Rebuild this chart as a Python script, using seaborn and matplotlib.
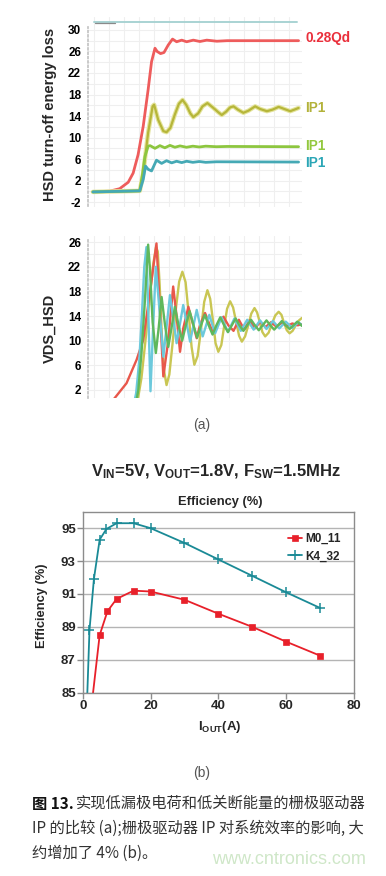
import numpy as np
import seaborn as sns
import matplotlib.pyplot as plt

# ---------------- (a) top: HSD turn-off energy loss, time axis 0-100 (a.u.)
e_red_t = [2.3, 10.2, 14.8, 18.8, 21.1, 23.4, 25.8, 28.1, 29.7, 31.3, 32.3, 33.9, 35.5, 37.5, 39.5,
           41.4, 43.8, 46.1, 49.2, 52.3, 55.5, 60.2, 65.0, 98.4]
e_red_v = [-0.1, 0.05, 0.5, 1.7, 3.4, 6.8, 12.1, 18.9, 24.1, 26.6, 26.0, 25.6, 25.8, 27.2, 28.3,
           27.8, 28.1, 27.8, 28.1, 27.85, 28.1, 27.9, 28.0, 28.0]

e_olive_t = [2.3, 24.2, 25.8, 28.1, 30.2, 30.9, 32.8, 35.2, 36.7, 38.5, 40.6, 42.5, 44.2, 46.0, 47.8,
             49.2, 51.5, 53.5, 55.8, 58.3, 60.9, 62.5, 64.5, 66.4, 68.0, 70.0, 72.6, 75.0, 78.1, 80.5,
             83.6, 86.3, 89.1, 91.8, 94.5, 96.5, 98.4]
e_olive_v = [-0.1, 0.1, 3.4, 10.9, 15.8, 16.1, 13.3, 11.2, 11.0, 11.8, 14.3, 16.3, 17.0, 16.0, 14.5,
             13.8, 14.5, 15.8, 16.4, 15.6, 14.7, 14.2, 14.8, 15.6, 15.8, 15.2, 14.6, 15.0, 15.8, 15.3,
             14.9, 15.2, 15.7, 15.3, 14.9, 15.2, 15.5]

e_green_t = [2.3, 24.2, 25.4, 26.6, 28.1, 29.0, 31.3, 33.6, 35.9, 38.3, 40.6, 43.0, 46.0, 49.0, 52.0,
             55.0, 60.0, 65.0, 98.4]
e_green_v = [-0.1, 0.1, 3.0, 6.5, 8.4, 8.5, 8.0, 8.5, 8.1, 8.55, 8.2, 8.45, 8.2, 8.4, 8.25,
             8.4, 8.3, 8.35, 8.3]

e_teal_t = [2.3, 24.2, 25.8, 26.9, 28.1, 29.7, 32.0, 34.4, 36.7, 39.1, 41.4, 43.8, 46.1, 49.0, 52.0,
            55.0, 60.0, 98.4]
e_teal_v = [-0.1, 0.1, 2.2, 4.7, 4.1, 3.8, 5.8, 5.2, 5.7, 5.3, 5.6, 5.35, 5.6, 5.4, 5.55,
            5.4, 5.5, 5.45]

top_t = [3.0, 97.7]
top_v = [31.5, 31.5]

trace_labels = ["0.28Qd", "IP1", "IP1", "IP1"]
trace_label_y = [28.5, 15.5, 8.5, 5.3]

# ---------------- (a) bottom: VDS_HSD
v_red_t = [8.0, 12.5, 18.0, 22.7, 25.8, 28.9, 32.0, 33.6, 35.2, 37.5, 39.8, 41.4, 43.0, 44.5, 46.9,
           49.2, 50.8, 52.3, 54.7, 56.6, 58.6, 61.0, 63.3, 65.6, 68.0, 70.5, 73.0, 75.5, 78.0, 80.5,
           83.0, 85.5, 88.0, 90.5, 93.0, 95.5, 98.0, 100.0]
v_red_v = [-1.0, 0.7, 3.1, 6.9, 10.1, 17.7, 25.8, 15.0, 4.2, 10.0, 18.8, 14.0, 8.2, 12.0, 15.5,
           12.5, 10.4, 12.5, 14.5, 12.8, 11.2, 13.0, 13.9, 12.5, 11.6, 13.4, 11.8, 13.3, 12.0, 13.1,
           12.2, 13.0, 12.3, 12.9, 12.4, 12.8, 12.5, 12.7]

v_olive_t = [20.0, 23.4, 25.0, 27.0, 29.0, 30.5, 31.8, 32.6, 33.5, 34.5, 35.6, 36.7, 38.0, 39.5, 41.0,
             42.6, 44.1, 45.6, 47.0, 48.4, 49.7, 51.2, 52.8, 54.3, 55.8, 57.1, 58.4, 59.6, 60.9, 62.3,
             63.6, 65.0, 66.4, 67.8, 69.2, 70.6, 71.9, 73.4, 74.9, 76.3, 77.8, 79.0, 80.3, 81.5, 82.8,
             84.4, 85.9, 87.5, 89.1, 90.4, 91.6, 92.9, 94.2, 95.6, 97.1, 98.6, 100.0]
v_olive_v = [-1.5, 0.7, 4.0, 10.5, 17.5, 22.5, 25.2, 24.5, 19.0, 11.0, 5.0, 2.8, 4.5, 9.5, 15.0,
             19.6, 21.2, 19.5, 14.5, 9.0, 6.1, 7.5, 11.8, 16.3, 18.2, 16.8, 13.2, 9.6, 8.2, 9.3,
             12.3, 15.2, 16.4, 15.4, 13.1, 10.8, 9.85, 10.7, 12.5, 14.4, 15.3, 14.6, 13.0, 11.4, 10.7,
             11.3, 12.7, 14.1, 14.7, 14.2, 12.9, 11.7, 11.2, 11.6, 12.5, 13.3, 13.7]

v_cyan_t = [21.0, 22.5, 24.0, 25.3, 26.3, 27.3, 28.3, 29.2, 30.4, 31.7, 33.4, 35.2, 36.8, 38.3, 39.9,
            41.4, 43.0, 44.5, 46.1, 47.7, 49.3, 50.8, 52.2, 53.6, 55.2, 56.7, 58.0, 59.4, 62.4, 65.4,
            68.4, 71.4, 74.4, 77.4, 80.4, 83.4, 86.4, 89.4, 92.4, 95.4, 98.4, 100.0]
v_cyan_v = [-1.0, 1.5, 7.0, 15.0, 22.0, 25.2, 13.0, 1.8, 12.0, 22.0, 15.0, 7.4, 12.5, 17.4, 13.5,
            9.6, 12.8, 15.8, 12.8, 9.85, 12.5, 15.0, 12.8, 10.7, 12.5, 14.2, 12.7, 11.2, 13.8, 11.4,
            13.6, 11.6, 13.4, 11.8, 13.3, 11.9, 13.2, 12.0, 13.1, 12.1, 13.0, 12.5]

v_green_t = [22.0, 23.5, 25.0, 26.5, 27.5, 28.1, 28.9, 30.2, 31.7, 33.0, 34.4, 36.0, 37.5, 39.0, 40.6,
             42.3, 44.0, 45.7, 47.5, 49.3, 51.0, 52.8, 54.6, 56.4, 58.2, 60.0, 61.8, 63.6, 65.4, 67.2,
             69.0, 70.8, 72.6, 74.4, 76.2, 78.0, 79.8, 81.6, 83.4, 85.2, 87.0, 88.8, 90.6, 92.4, 94.2,
             96.0, 97.8, 100.0]
v_green_v = [-1.0, 2.0, 8.0, 16.0, 22.0, 25.6, 22.0, 13.0, 8.0, 12.0, 17.1, 12.5, 9.0, 12.0, 15.5,
             12.5, 10.0, 12.5, 14.8, 12.5, 10.5, 12.5, 14.2, 12.5, 11.0, 12.5, 13.8, 12.5, 11.4, 12.5,
             13.6, 12.5, 11.6, 12.5, 13.4, 12.5, 11.7, 12.5, 13.3, 12.5, 11.8, 12.5, 13.2, 12.5, 11.9,
             12.5, 13.1, 12.4]

# ---------------- (b): efficiency vs output current
iout_m0 = [2.5, 5, 7.3, 10, 15, 20, 30, 40, 50, 60, 70]
eff_m0 = [84.0, 88.5, 89.95, 90.7, 91.2, 91.15, 90.65, 89.8, 89.0, 88.1, 87.25]
iout_k4 = [1, 2, 3.3, 5, 7, 10, 15, 20, 30, 40, 50, 60, 70]
eff_k4 = [82.8, 88.8, 91.9, 94.3, 94.95, 95.3, 95.3, 95.0, 94.1, 93.1, 92.1, 91.1, 90.15]

# ---------------- styling
sns.set_theme(style="white")
plt.rcParams["font.family"] = ["Liberation Sans", "Noto Sans CJK SC", "DejaVu Sans"]
plt.rcParams["axes.unicode_minus"] = False
plt.rcParams["mathtext.fontset"] = "custom"
plt.rcParams["mathtext.bf"] = "Liberation Sans:bold"
plt.rcParams["mathtext.rm"] = "Liberation Sans"
plt.rcParams["mathtext.it"] = "Liberation Sans:italic"

W, H = 386, 876
fig = plt.figure(figsize=(W / 100, H / 100), dpi=100)


def box(l, t, r, b):
    return [l / W, 1 - b / H, (r - l) / W, (b - t) / H]


def ftext(x, y, s, **kw):
    return fig.text(x / W, 1 - y / H, s, **kw)


def scope_style(ax, ylim, major, minor, spine_lim):
    ax.set_xlim(0, 100)
    ax.set_ylim(*ylim)
    ax.set_yticks(major)
    ax.set_yticks(minor, minor=True)
    ax.set_xticks(np.arange(3, 101, 7))
    ax.tick_params(axis="x", length=0, labelbottom=False)
    ax.tick_params(axis="y", which="major", length=3, width=0.8, color="#aaaaaa",
                   labelsize=8.5, pad=2, labelcolor="black")
    ax.tick_params(axis="y", which="minor", length=2, width=0.6, color="#bbbbbb")
    ax.grid(True, which="both", color="#efefef", lw=0.8)
    for s in ["top", "right", "bottom"]:
        ax.spines[s].set_visible(False)
    ax.spines["left"].set_color("#c4c4c4")
    ax.spines["left"].set_linestyle((0, (1, 1.5)))
    ax.spines["left"].set_bounds(*spine_lim)
    for lab in ax.get_yticklabels():
        lab.set_fontweight("bold")


# ---- panel (a) top
ax1 = fig.add_axes(box(88, 17, 302, 207))
sns.lineplot(x=top_t, y=top_v, ax=ax1, color="#a9d3d3", lw=1.4)
sns.lineplot(x=e_red_t, y=e_red_v, ax=ax1, color="#ee5c5c", lw=2.0)
sns.lineplot(x=e_olive_t, y=e_olive_v, ax=ax1, color="#e4e49c", lw=3.2)
sns.lineplot(x=e_olive_t, y=e_olive_v, ax=ax1, color="#b6b63a", lw=1.6)
sns.lineplot(x=e_green_t, y=e_green_v, ax=ax1, color="#8dc63f", lw=2.0)
sns.lineplot(x=e_teal_t, y=e_teal_v, ax=ax1, color="#45a9b5", lw=2.0)
ax1.plot([3.5, 12.5], [31.3, 31.3], color="#8a8a8a", lw=0.9)
scope_style(ax1, (-2.9, 32.4), np.arange(-2, 31, 4), np.arange(-2, 31, 2), (-2.8, 30.6))

label_colors = ["#ea2f3b", "#b3b23a", "#93c83e", "#2ba6b6"]
for s, yv, c in zip(trace_labels, trace_label_y, label_colors):
    ax1.text(101.5, yv, s, color=c, fontsize=9.8, fontweight="bold", va="center", ha="left",
             clip_on=False)
ftext(50, 114, "HSD turn-off energy loss", rotation=90, ha="center", va="center",
      fontsize=10.5, fontweight="bold")

# ---- panel (a) bottom
ax2 = fig.add_axes(box(88, 236, 302, 398))
sns.lineplot(x=v_olive_t, y=v_olive_v, ax=ax2, color="#c9c653", lw=1.7)
sns.lineplot(x=v_red_t, y=v_red_v, ax=ax2, color="#e8574b", lw=1.7)
sns.lineplot(x=v_cyan_t, y=v_cyan_v, ax=ax2, color="#6cc9dc", lw=1.7)
sns.lineplot(x=v_green_t, y=v_green_v, ax=ax2, color="#5fb85c", lw=1.7)
scope_style(ax2, (0.7, 27.0), np.arange(2, 27, 4), np.arange(2, 27, 2), (0.7, 26.6))
ftext(50, 328, "VDS_HSD", rotation=90, ha="center", va="center", fontsize=10.5, fontweight="bold")

ftext(202, 425, "(a)", ha="center", va="center", fontsize=10, color="#555555")

# ---- panel (b)
ftext(216, 472, r"V$_\mathbf{IN}$=5V, V$_\mathbf{OUT}$=1.8V, F$_\mathbf{SW}$=1.5MHz",
      ha="center", va="center", fontsize=12, fontweight="bold")
ftext(220, 502, "Efficiency (%)", ha="center", va="center", fontsize=9.3, fontweight="bold")

ax3 = fig.add_axes(box(82.7, 511.7, 354, 692.7))
c_m0, c_k4 = "#e8202a", "#1a8a96"
sns.lineplot(x=iout_m0, y=eff_m0, ax=ax3, color=c_m0, lw=1.3, marker="s", markersize=5,
             markeredgewidth=0.5, markeredgecolor=c_m0, label="M0_11")
sns.lineplot(x=iout_k4, y=eff_k4, ax=ax3, color=c_k4, lw=1.3, marker="+", markersize=7.5,
             markeredgewidth=1.1, markeredgecolor=c_k4, label="K4_32")
ax3.set_xlim(0, 80)
ax3.set_ylim(85, 96)
ax3.set_xticks([0, 20, 40, 60, 80])
ax3.set_yticks([85, 87, 89, 91, 93, 95])
ax3.grid(axis="y", color="#b4b4b4", lw=1.0)
ax3.grid(axis="x", visible=False)
for s in ax3.spines.values():
    s.set_color("#8c8c8c")
    s.set_linewidth(1.0)
ax3.tick_params(axis="both", direction="out", length=4, width=1, color="#8c8c8c",
                labelsize=9.5, pad=1, bottom=True, left=True)
for lab in ax3.get_xticklabels() + ax3.get_yticklabels():
    lab.set_fontweight("bold")
ax3.legend(loc="upper left", bbox_to_anchor=(0.735, 0.915), frameon=False, borderpad=0,
           handlelength=1.2, handletextpad=0.3, labelspacing=0.45,
           prop={"size": 8.5, "weight": "bold"})

ftext(42, 606, "Efficiency (%)", rotation=90, ha="center", va="center", fontsize=9.3,
      fontweight="bold")
ftext(220, 727, r"I$_\mathbf{OUT}$(A)", ha="center", va="center", fontsize=9.5, fontweight="bold")
ftext(202, 773, "(b)", ha="center", va="center", fontsize=10, color="#555555")

# ---- caption
cjk = ["Noto Sans CJK SC", "DejaVu Sans"]
ftext(32, 803.5, "图 13.", ha="left", va="center", fontsize=11, fontweight="bold",
      family=cjk, color="#111111")
ftext(76, 803.5, "实现低漏极电荷和低关断能量的栅极驱动器", ha="left", va="center",
      fontsize=11, family=cjk, color="#333333")
ftext(32, 828, "IP 的比较 (a);栅极驱动器 IP 对系统效率的影响, 大", ha="left", va="center",
      fontsize=11, family=cjk, color="#333333")
ftext(32, 853, "约增加了 4% (b)。", ha="left", va="center", fontsize=11, family=cjk,
      color="#333333")
ftext(366, 860, "www.cntronics.com", ha="right", va="center", fontsize=13, color="#cfe7c8",
      family=["Liberation Sans"])

fig.savefig("out.png", dpi=100)
